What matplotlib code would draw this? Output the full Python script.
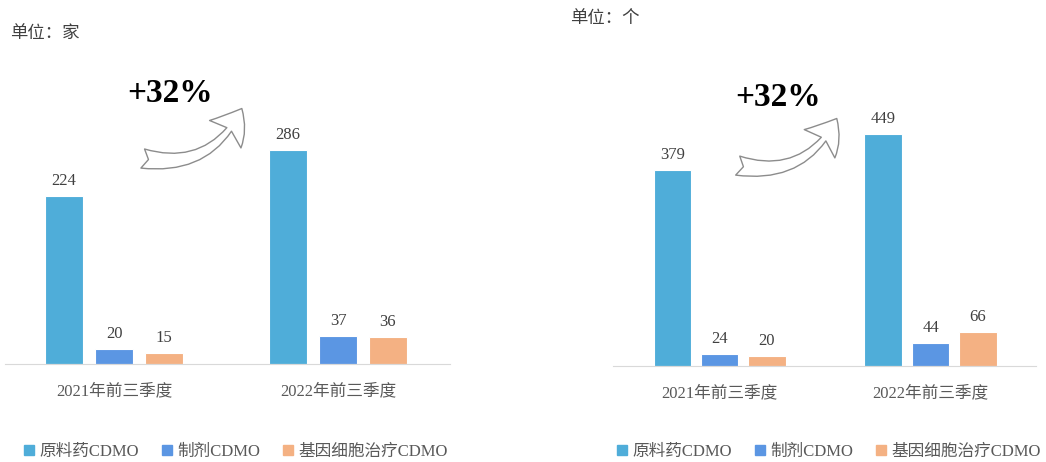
import numpy as np
import matplotlib.pyplot as plt
from matplotlib.patches import FancyArrowPatch, Patch

plt.rcParams['font.family'] = ['Liberation Serif', 'Noto Sans CJK SC']

# data
categories = ['2021年前三季度', '2022年前三季度']
series = ['原料药CDMO', '制剂CDMO', '基因细胞治疗CDMO']
companies = [[224, 286], [20, 37], [15, 36]]   # 单位：家
projects = [[379, 449], [24, 44], [20, 66]]    # 单位：个
units = ['单位：家', '单位：个']
growth = ['+32%', '+32%']
colors = ['#4FADD9', '#5B96E3', '#F4B183']

W, H = 1046, 462
fig = plt.figure(figsize=(W / 100, H / 100), dpi=100)


def px(x, y):
    return x / W, 1 - y / H


# axes in pixel boxes: left, baseline, right, top
boxes = [(5, 364, 450, 124), (613, 366, 1036, 118)]
ylims = [320, 480]
xlims = [(-0.487, 1.5), (-0.505, 1.5)]
offs = [0.223, 0.224]
widths = [0.17, 0.178]
datasets = [companies, projects]
legend_x = [236, 829]

for k in range(2):
    l, b, r, t = boxes[k]
    ax = fig.add_axes([l / W, 1 - b / H, (r - l) / W, (b - t) / H])
    x = np.arange(len(categories))
    for i, vals in enumerate(datasets[k]):
        bars = ax.bar(x + (i - 1) * offs[k], vals, widths[k], color=colors[i],
                      label=series[i], edgecolor='white', linewidth=0.8)
        ax.bar_label(bars, padding=5, fontsize=12, color='#404040')
    ax.set_xlim(*xlims[k])
    ax.set_ylim(0, ylims[k])
    ax.set_xticks(x, categories)
    ax.tick_params(axis='x', length=0, pad=14, labelsize=12, labelcolor='#595959')
    ax.set_yticks([])
    for s in ['top', 'right', 'left']:
        ax.spines[s].set_visible(False)
    ax.spines['bottom'].set_color('#D9D9D9')
    handles = [Patch(color=c) for c in colors]
    fig.legend(handles, series, loc='center', bbox_to_anchor=px(legend_x[k], 452),
               ncol=3, frameon=False, fontsize=12, handlelength=0.6,
               handleheight=0.6, handletextpad=0.3, columnspacing=1.4,
               labelcolor='#595959')

# unit labels
fig.text(*px(10, 33), units[0], fontsize=12.5, color='#404040', va='center',
         family=['Noto Sans CJK SC'])
fig.text(*px(570, 18), units[1], fontsize=12.5, color='#404040', va='center',
         family=['Noto Sans CJK SC'])

# growth arrows
arrows = [((140, 158), (243, 106), (170, 94)), ((735, 165), (838, 116), (778, 97))]
for (tail, head, tpos), g in zip(arrows, growth):
    arr = FancyArrowPatch(px(*tail), px(*head), transform=fig.transFigure,
                          connectionstyle='arc3,rad=0.4',
                          arrowstyle='fancy,head_width=3.0,head_length=2.2,tail_width=1.4',
                          mutation_scale=10, facecolor='white', edgecolor='#8C8C8C',
                          linewidth=1.0)
    fig.add_artist(arr)
    fig.text(*px(*tpos), g, fontsize=24, fontweight='bold', ha='center', va='center')

fig.savefig('out.png', dpi=100)
